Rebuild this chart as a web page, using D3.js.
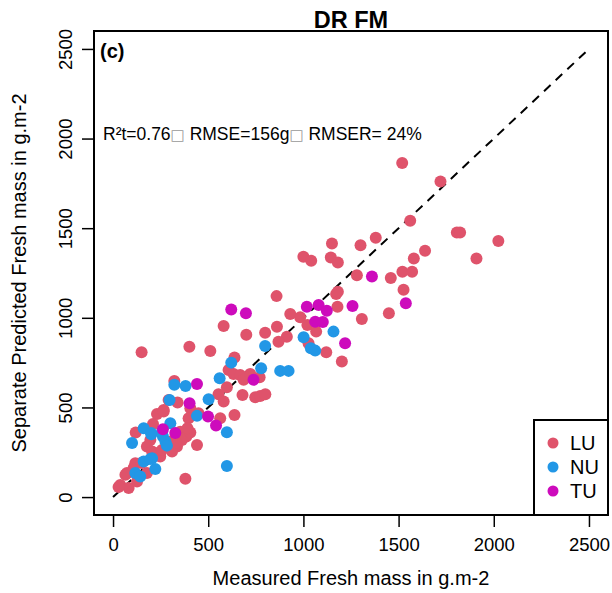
<!DOCTYPE html>
<html>
<head>
<meta charset="utf-8">
<script src="https://cdn.jsdelivr.net/npm/d3@7"></script>
<style>
  body { margin: 0; background: #fff; }
  text { font-family: "Liberation Sans", Arial, Helvetica, sans-serif; }
</style>
</head>
<body>
<script>
// measured (x) vs predicted (y), g.m-2
const luPoints = [
  [1519,1864],[1720,1760],[1561,1541],[1806,1476],[1823,1476],[2024,1428],[1639,1374],[1580,1331],
  [1909,1331],[1150,1415],[1300,1405],[1380,1446],[1000,1340],[1041,1318],[1144,1337],[1181,1309],
  [1281,1238],[1459,1222],[1520,1257],[1571,1257],[1526,1157],[1172,1133],[1181,1146],[1179,1062],
  [1307,993],[1449,1025],[859,1121],
  [581,954],[700,906],[799,917],[861,950],[931,1021],[983,1003],[1021,960],[1067,923],[913,895],
  [869,867],[1027,858],[1120,808],[1202,756],[150,808],[401,839],[511,815],[638,778],[607,709],
  [633,687],[668,681],[686,654],[721,687],[770,668],[322,648],[598,613],[680,570],[747,557],
  [773,564],[800,574],[554,574],[581,533],[292,542],[339,527],[231,464],[266,486],[406,496],
  [449,468],[397,440],[563,440],[638,458],[441,290],[380,102],[210,408],[119,360],[353,365],
  [196,319],[178,282],[205,254],[234,245],[362,319],[385,338],[406,360],[391,384],[301,310],
  [336,282],[310,254],[248,226],[117,189],[73,134],[38,68],[82,50],[126,87],[178,134],[108,162],
  [266,477],[29,56],[65,124],[257,263],[327,301],[150,190]
];
const nuPoints = [
  [799,843],[1158,923],[1001,891],[1039,830],[1062,817],[621,750],[778,719],[878,704],[922,704],
  [322,626],[381,620],[560,663],[502,546],[297,542],[441,453],[598,362],[598,174],[301,412],
  [161,384],[201,351],[100,301],[257,365],[262,338],[275,310],[283,287],[205,217],[161,198],
  [222,156],[117,134],[143,115],[196,212],[200,357]
];
const tuPoints = [
  [1360,1231],[1538,1081],[1258,1066],[1018,1062],[1080,1071],[1123,1040],[621,1047],[698,1025],
  [1062,978],[1102,977],[1219,858],[738,654],[441,631],[402,524],[499,449],[541,399],[262,379],
  [327,357]
];
const groups = ['LU','NU','TU'];
const ticks = [0,500,1000,1500,2000,2500];
const oneToOne = [[0,0],[2500,2500]];

document.addEventListener('DOMContentLoaded', function(){
    render();
});

function render() {
    const svgWid = 612;
    const svgHt = 593;
    const plot = {left:94, right:608, top:31, bottom:515};
    const svg = d3.select('body').append('svg').attr('width',svgWid).attr('height',svgHt);

    const colors = {LU:'#DF536B', NU:'#2297E6', TU:'#CD0BBC'};
    const data = [].concat(
        luPoints.map(d => ({x:d[0], y:d[1], g:'LU'})),
        nuPoints.map(d => ({x:d[0], y:d[1], g:'NU'})),
        tuPoints.map(d => ({x:d[0], y:d[1], g:'TU'}))
    );

    // R style: 4% padding on each side of 0..2500
    var xScale = d3.scaleLinear().domain([-100,2600]).range([plot.left,plot.right]);
    var yScale = d3.scaleLinear().domain([-100,2600]).range([plot.bottom,plot.top]);

    //xAxis
    var xAxis = d3.axisBottom(xScale).tickValues(ticks).tickSize(12).tickPadding(11).tickFormat(d3.format('d'));
    const xAxisG = svg.append('g').attr('transform',`translate(0,${plot.bottom})`).call(xAxis);
    xAxisG.select('.domain').remove();
    xAxisG.selectAll('.tick line').attr('stroke','#000').attr('stroke-width',1.5);
    xAxisG.selectAll('.tick text').attr('fill','#000').attr('font-size','18.5px')
        .style('font-family','"Liberation Sans", Arial, sans-serif');

    //yAxis (labels parallel to axis)
    var yAxis = d3.axisLeft(yScale).tickValues(ticks).tickSize(12).tickFormat(d3.format('d'));
    const yAxisG = svg.append('g').attr('transform',`translate(${plot.left},0)`).call(yAxis);
    yAxisG.select('.domain').remove();
    yAxisG.selectAll('.tick line').attr('stroke','#000').attr('stroke-width',1.5);
    yAxisG.selectAll('.tick text').attr('fill','#000').attr('font-size','18.5px')
        .style('font-family','"Liberation Sans", Arial, sans-serif')
        .attr('transform','rotate(-90)').attr('text-anchor','middle')
        .attr('x',0).attr('y',-22).attr('dy',0);

    // axis titles
    svg.append('text').text('Measured Fresh mass in g.m-2').attr('x',(plot.left+plot.right)/2).attr('y',585)
        .attr('text-anchor','middle').attr('font-size','20px');
    svg.append('text').text('Separate Predicted Fresh mass in g.m-2')
        .attr('transform',`translate(26,${(plot.top+plot.bottom)/2}) rotate(-90)`)
        .attr('text-anchor','middle').attr('font-size','20px');

    //chart title
    svg.append('text').text('DR FM').attr('x',(plot.left+plot.right)/2).attr('y',28)
        .attr('text-anchor','middle').attr('font-size','23.5px').attr('font-weight','bold');

    // panel letter + stats
    svg.append('text').text('(c)').attr('x',100).attr('y',58).attr('font-size','20px').attr('font-weight','bold');
    const stats = svg.append('text').attr('x',103).attr('y',140).attr('font-size','17.5px');
    stats.append('tspan').text('R²t=0.76');
    stats.append('tspan').text('□').style('font-family','"DejaVu Sans"').attr('font-size','15px').attr('fill','#999');
    stats.append('tspan').text(' RMSE=156g');
    stats.append('tspan').text('□').style('font-family','"DejaVu Sans"').attr('font-size','15px').attr('fill','#999');
    stats.append('tspan').text(' RMSER= 24%');

    //1:1 line
    svg.append('path').attr('d', d3.line().x(d=>xScale(d[0])).y(d=>yScale(d[1]))(oneToOne))
        .attr('stroke','#000').attr('stroke-width',2).attr('stroke-dasharray','9,7').attr('fill','none');

    //points
    svg.append('g').selectAll('circle').data(data).enter()
        .append('circle')
        .attr('cx', d=>xScale(d.x))
        .attr('cy', d=>yScale(d.y))
        .attr('r', 6)
        .attr('fill', d=>colors[d.g]);

    // box
    svg.append('rect').attr('x',plot.left).attr('y',plot.top)
        .attr('width',plot.right-plot.left).attr('height',plot.bottom-plot.top)
        .attr('fill','none').attr('stroke','#000').attr('stroke-width',2);

    // legend bottomright
    const lg = svg.append('g');
    lg.append('rect').attr('x',534).attr('y',420).attr('width',plot.right-534).attr('height',plot.bottom-420)
        .attr('fill','#fff').attr('stroke','#000').attr('stroke-width',2);
    groups.forEach((g,i) => {
        lg.append('circle').attr('cx',553).attr('cy',443+i*24).attr('r',5.5).attr('fill',colors[g]);
        lg.append('text').text(g).attr('x',570).attr('y',450+i*24).attr('font-size','20px');
    });
};
</script>
</body>
</html>
